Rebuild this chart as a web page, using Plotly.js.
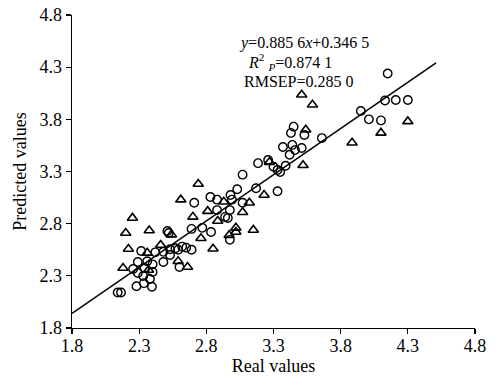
<!DOCTYPE html>
<html>
<head>
<meta charset="utf-8">
<script src="https://cdn.plot.ly/plotly-3.0.1.min.js"></script>
<style>html,body{margin:0;padding:0;background:#fff;}#chart{width:498px;height:377px;}</style>
</head>
<body>
<div id="chart"></div>
<script>
// Calibration set (open circles)
const calX = [4.15,3.95,4.13,4.21,4.30,4.01,4.10,
  3.45,3.43,3.53,3.66,3.37,3.44,3.46,3.51,3.42,3.185,3.26,3.30,3.33,3.39,3.35,3.07,3.17,3.33,
  3.03,2.98,2.99,2.83,2.88,2.71,3.07,2.88,2.975,2.94,2.96,2.975,2.69,2.77,2.835,
  2.51,2.52,2.62,2.65,2.69,2.59,2.53,2.315,2.42,2.48,2.53,2.57,2.48,2.60,2.29,2.36,2.40,
  2.255,2.29,2.34,2.40,2.33,2.38,2.28,2.335,2.395,2.14,2.165];
const calY = [4.24,3.88,3.98,3.985,3.985,3.80,3.79,
  3.73,3.67,3.65,3.62,3.535,3.555,3.505,3.525,3.46,3.38,3.41,3.345,3.315,3.355,3.295,3.27,3.14,3.11,
  3.13,3.075,3.03,3.056,3.03,3.0,3.0,2.93,2.93,2.865,2.855,2.645,2.75,2.76,2.72,
  2.73,2.71,2.58,2.57,2.55,2.55,2.555,2.538,2.525,2.53,2.50,2.565,2.433,2.385,2.433,2.44,2.41,
  2.366,2.327,2.375,2.337,2.298,2.27,2.20,2.23,2.195,2.14,2.14];
// Prediction set (open triangles)
const preX = [4.30,4.10,3.885,3.51,3.59,3.54,3.52,3.27,3.23,3.12,3.07,3.15,3.02,3.02,2.97,
  2.74,2.61,2.93,2.81,2.70,2.885,2.76,2.85,2.66,2.59,2.25,2.20,2.375,2.54,2.22,2.36,2.46,2.18,2.37];
const preY = [3.78,3.67,3.575,4.035,3.94,3.70,3.36,3.39,3.075,3.0,2.91,2.74,2.76,2.72,2.69,
  3.18,3.03,3.01,2.92,2.865,2.825,2.66,2.56,2.385,2.44,2.855,2.71,2.735,2.695,2.557,2.52,2.596,2.375,2.356];
// Regression line
const slope = 0.8856, intercept = 0.3465;
const lineX = [1.8, 4.51];
const lineY = lineX.map(v => slope * v + intercept);
const ticks = [1.8, 2.3, 2.8, 3.3, 3.8, 4.3, 4.8];

const font = 'Liberation Serif';
const traces = [
  {x: lineX, y: lineY, mode: 'lines', line: {color: '#000', width: 1.5}, showlegend: false, hoverinfo: 'skip'},
  {x: calX, y: calY, mode: 'markers', marker: {symbol: 'circle-open', size: 8.5, color: '#000', line: {width: 1.4, color: '#000'}}, showlegend: false},
  {x: preX, y: preY, mode: 'markers', marker: {symbol: 'triangle-up-open', size: 9, color: '#000', line: {width: 1.6, color: '#000'}}, showlegend: false}
];
const axisBase = {
  range: [1.8, 4.8], tickvals: ticks, ticktext: ticks.map(v => v.toFixed(1)),
  showgrid: false, zeroline: false, showline: true, linecolor: '#000', linewidth: 1.3,
  ticks: 'outside', ticklen: 5, tickwidth: 1.3, tickcolor: '#000',
  tickfont: {family: font, size: 18, color: '#000'}, mirror: false
};
const layout = {
  width: 498, height: 377,
  margin: {l: 72, r: 23, t: 15, b: 49},
  paper_bgcolor: '#fff', plot_bgcolor: '#fff',
  font: {family: font, color: '#000'},
  xaxis: Object.assign({}, axisBase, {ticklabelstandoff: -4, title: {text: 'Real values', font: {family: font, size: 18, color: '#000'}, standoff: 2}}),
  yaxis: Object.assign({}, axisBase, {title: {text: 'Predicted values', font: {family: font, size: 18, color: '#000'}, standoff: 8}}),
  annotations: [
    {xref: 'paper', yref: 'paper', x: 0.410, y: 0.911, xanchor: 'left', yanchor: 'middle', showarrow: false,
     text: '<i>y</i>=0.885 6<i>x</i>+0.346 5', font: {family: font, size: 16, color: '#000'}},
    {xref: 'paper', yref: 'paper', x: 0.432, y: 0.850, xanchor: 'left', yanchor: 'middle', showarrow: false,
     text: '<i>R</i><sup>2</sup> <sub><i>P</i></sub>=0.874 1', font: {family: font, size: 16, color: '#000'}},
    {xref: 'paper', yref: 'paper', x: 0.422, y: 0.789, xanchor: 'left', yanchor: 'middle', showarrow: false,
     text: 'RMSEP=0.285 0', font: {family: font, size: 16, color: '#000'}}
  ]
};
Plotly.newPlot('chart', traces, layout, {staticPlot: true, displayModeBar: false});
</script>
</body>
</html>
